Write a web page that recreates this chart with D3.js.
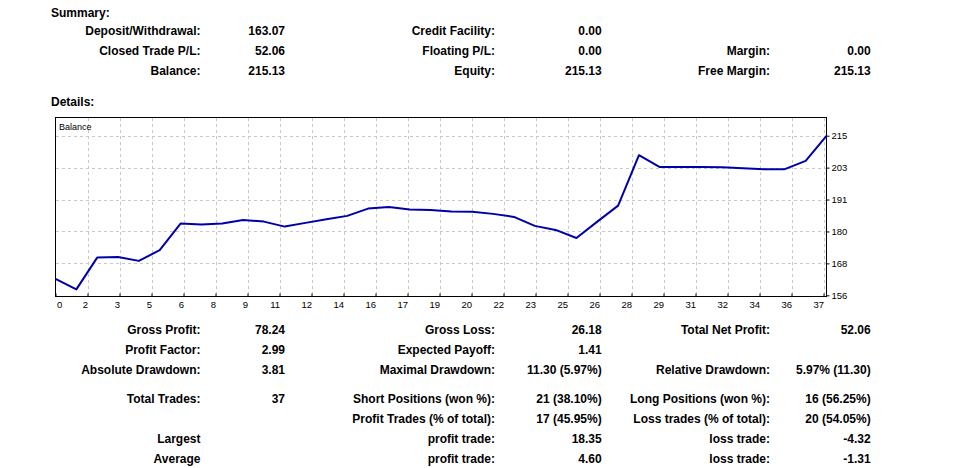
<!DOCTYPE html>
<html>
<head>
<meta charset="utf-8">
<script src="https://cdn.jsdelivr.net/npm/d3@7"></script>
<style>
  body { margin: 0; background: #fff; }
  text { font-family: "Liberation Sans", Arial, sans-serif; fill: #000; }
  .bold { font-weight: bold; font-size: 12px; }
  .axis text { font-size: 9.5px; }
</style>
</head>
<body>
<script>
// balance after each closed trade (index 0 = deposit)
var balance = [163.07, 159.26, 170.83, 171.08, 169.63, 173.52, 183.20, 182.84, 183.20, 184.55,
               183.93, 182.11, 183.46, 184.81, 186.01, 188.66, 189.28, 188.30, 188.19, 187.57,
               187.50, 186.74, 185.64, 182.37, 180.91, 177.98, 183.93, 189.76, 208.11, 203.79,
               203.84, 203.82, 203.74, 203.37, 203.01, 203.01, 206.03, 215.13];

var xTickLabels = [0, 2, 3, 5, 6, 8, 9, 11, 12, 14, 16, 17, 19, 20, 22, 23, 25, 26, 28, 29, 31, 32, 34, 36, 37];
var xTickStep = 1.5357;
var yTickLabels = [156, 168, 180, 191, 203, 215];
var yLow = 157.1, yHigh = 215.2;

var summaryRows = [
  ["Deposit/Withdrawal:", "163.07", "Credit Facility:", "0.00", "", ""],
  ["Closed Trade P/L:", "52.06", "Floating P/L:", "0.00", "Margin:", "0.00"],
  ["Balance:", "215.13", "Equity:", "215.13", "Free Margin:", "215.13"]
];

var detailRows = [
  ["Gross Profit:", "78.24", "Gross Loss:", "26.18", "Total Net Profit:", "52.06"],
  ["Profit Factor:", "2.99", "Expected Payoff:", "1.41", "", ""],
  ["Absolute Drawdown:", "3.81", "Maximal Drawdown:", "11.30 (5.97%)", "Relative Drawdown:", "5.97% (11.30)"],
  ["Total Trades:", "37", "Short Positions (won %):", "21 (38.10%)", "Long Positions (won %):", "16 (56.25%)"],
  ["", "", "Profit Trades (% of total):", "17 (45.95%)", "Loss trades (% of total):", "20 (54.05%)"],
  ["Largest", "", "profit trade:", "18.35", "loss trade:", "-4.32"],
  ["Average", "", "profit trade:", "4.60", "loss trade:", "-1.31"]
];

var svg = d3.select("body").append("svg")
  .attr("width", 965)
  .attr("height", 468);

svg.append("rect").attr("width", 965).attr("height", 468).attr("fill", "#fff");

// text tables
var colRight = [200.5, 285, 495, 601.7, 770, 870.7];

function drawRows(rows, baselines) {
  rows.forEach(function(row, i) {
    row.forEach(function(t, j) {
      if (!t) return;
      svg.append("text")
         .attr("class", "bold")
         .attr("x", colRight[j])
         .attr("y", baselines[i])
         .attr("text-anchor", "end")
         .text(t);
    });
  });
}

svg.append("text").attr("class", "bold").attr("x", 51).attr("y", 16.5).text("Summary:");
svg.append("text").attr("class", "bold").attr("x", 51).attr("y", 106).text("Details:");

drawRows(summaryRows, [35.3, 55.3, 75.3]);
drawRows(detailRows, [334, 354, 374, 402.7, 422.7, 442.7, 462.7]);

// chart
var plotLeft = 55.5, plotRight = 826.5, plotTop = 117.5, plotBottom = 296.5;

var x = d3.scaleLinear().domain([0, balance.length - 1]).range([plotLeft, plotRight]);
var y = d3.scaleLinear().domain([yLow, yHigh]).range([295.3, 135.7]);

var xTicks = xTickLabels.map(function(d, i) { return i * xTickStep; });
var yTicks = yTickLabels.map(function(d, i) { return yLow + i * (yHigh - yLow) / (yTickLabels.length - 1); });

var grid = svg.append("g")
  .attr("stroke", "#c8c8c8")
  .attr("stroke-dasharray", "3,3")
  .attr("shape-rendering", "crispEdges");

grid.selectAll(".vg")
  .data(xTicks.slice(1))
  .enter().append("line")
  .attr("x1", function(d) { return Math.round(x(d)) + 0.5; })
  .attr("x2", function(d) { return Math.round(x(d)) + 0.5; })
  .attr("y1", plotTop)
  .attr("y2", plotBottom);

grid.selectAll(".hg")
  .data(yTicks.slice(1))
  .enter().append("line")
  .attr("x1", plotLeft)
  .attr("x2", plotRight)
  .attr("y1", function(d) { return Math.round(y(d)) + 0.5; })
  .attr("y2", function(d) { return Math.round(y(d)) + 0.5; });

svg.append("rect")
  .attr("x", plotLeft).attr("y", plotTop)
  .attr("width", plotRight - plotLeft).attr("height", plotBottom - plotTop)
  .attr("fill", "none")
  .attr("stroke", "#000")
  .attr("shape-rendering", "crispEdges");

svg.append("text")
  .attr("x", 59).attr("y", 130)
  .style("font-size", "9px")
  .text("Balance");

var line = d3.line()
  .x(function(d, i) { return x(i); })
  .y(function(d) { return y(d); });

svg.append("path")
  .datum(balance)
  .attr("fill", "none")
  .attr("stroke", "#0000aa")
  .attr("stroke-width", 2)
  .attr("stroke-linejoin", "round")
  .attr("d", line);

var xAxis = svg.append("g")
  .attr("class", "axis")
  .attr("transform", "translate(0," + plotBottom + ")")
  .call(d3.axisBottom(x)
    .tickValues(xTicks)
    .tickSize(-3)
    .tickFormat(function(d, i) { return xTickLabels[i]; }));

xAxis.select(".domain").remove();
xAxis.selectAll("line").attr("stroke", "#000");
xAxis.selectAll("text")
  .attr("y", 11.2)
  .attr("dy", null)
  .attr("text-anchor", function(d, i) { return i == 0 ? "start" : "end"; })
  .attr("x", function(d, i) { return i == 0 ? 1 : 0; });

var yAxis = svg.append("g")
  .attr("class", "axis")
  .attr("transform", "translate(" + plotRight + ",0)")
  .call(d3.axisRight(y)
    .tickValues(yTicks)
    .tickSize(3)
    .tickPadding(2)
    .tickFormat(function(d, i) { return yTickLabels[i]; }));

yAxis.select(".domain").remove();
yAxis.selectAll("line").attr("stroke", "#000");
</script>
</body>
</html>
